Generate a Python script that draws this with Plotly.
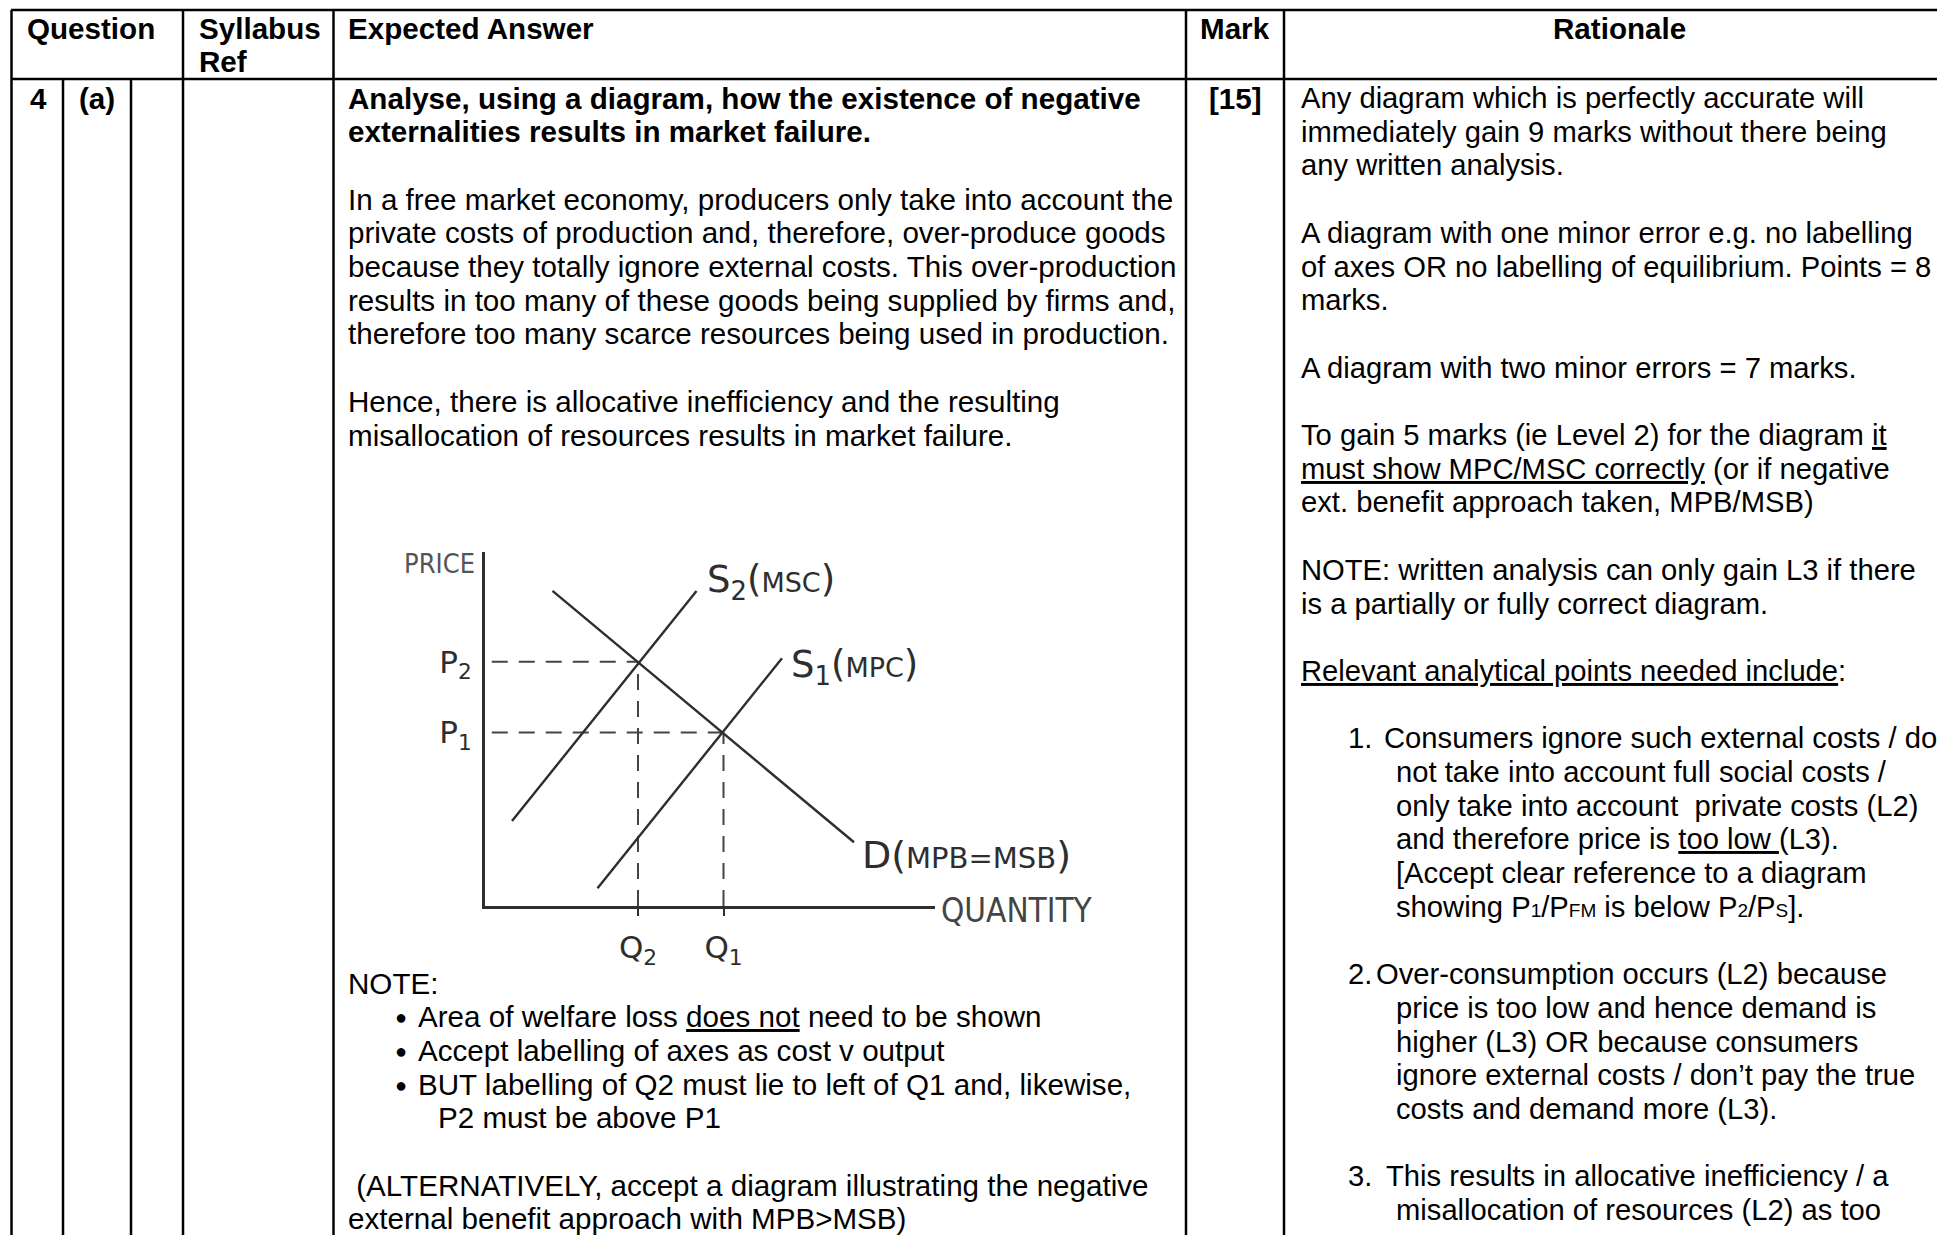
import plotly.graph_objects as go

W, H = 1937, 1235
FONT = "Liberation Sans, Arial, sans-serif"
HAND = "DejaVu Sans, sans-serif"
NARROW = "Liberation Sans Narrow, DejaVu Sans Condensed, DejaVu Sans, sans-serif"
INK = "#2e2e2e"

# diagram values (quantity / price on a 0-100 scale)
s2_q = [6, 47]
s2_p = [24, 89]
s1_q = [25, 66]
s1_p = [5, 70]
d_q = [15, 82]
d_p = [89, 18]
eq_q = [34, 53]      # Q2, Q1
eq_p = [69, 49]      # P2, P1
q_ticks = ["Q<sub>2</sub>", "Q<sub>1</sub>"]
p_ticks = ["P<sub>2</sub>", "P<sub>1</sub>"]

# table text
header = ["Question", "Syllabus", "Ref", "Expected Answer", "Mark", "Rationale"]
answer_lines = [
    (0, "<b>Analyse, using a diagram, how the existence of negative</b>"),
    (1, "<b>externalities results in market failure.</b>"),
    (3, "In a free market economy, producers only take into account the"),
    (4, "private costs of production and, therefore, over-produce goods"),
    (5, "because they totally ignore external costs. This over-production"),
    (6, "results in too many of these goods being supplied by firms and,"),
    (7, "therefore too many scarce resources being used in production."),
    (9, "Hence, there is allocative inefficiency and the resulting"),
    (10, "misallocation of resources results in market failure."),
]
note_lines = [
    (983, 346, "NOTE:"),
    (1016, 416, "Area of welfare loss <u>does not</u> need to be shown"),
    (1050, 416, "Accept labelling of axes as cost v output"),
    (1084, 416, "BUT labelling of Q2 must lie to left of Q1 and, likewise,"),
    (1117, 436, "P2 must be above P1"),
    (1185, 346, " (ALTERNATIVELY, accept a diagram illustrating the negative"),
    (1218, 346, "external benefit approach with MPB>MSB)"),
]
bullet_rows = [1016, 1050, 1084]

sm = "<span style='font-size:19px'>%s</span>"
rationale_lines = [
    (0, 1299, "Any diagram which is perfectly accurate will"),
    (1, 1299, "immediately gain 9 marks without there being"),
    (2, 1299, "any written analysis."),
    (4, 1299, "A diagram with one minor error e.g. no labelling"),
    (5, 1299, "of axes OR no labelling of equilibrium. Points = 8"),
    (6, 1299, "marks."),
    (8, 1299, "A diagram with two minor errors = 7 marks."),
    (10, 1299, "To gain 5 marks (ie Level 2) for the diagram <u>it</u>"),
    (11, 1299, "<u>must show MPC/MSC correctly</u> (or if negative"),
    (12, 1299, "ext. benefit approach taken, MPB/MSB)"),
    (14, 1299, "NOTE: written analysis can only gain L3 if there"),
    (15, 1299, "is a partially or fully correct diagram."),
    (17, 1299, "<u>Relevant analytical points needed include</u>:"),
    (19, 1346, "1."),
    (19, 1382, "Consumers ignore such external costs / do"),
    (20, 1394, "not take into account full social costs /"),
    (21, 1394, "only take into account  private costs (L2)"),
    (22, 1394, "and therefore price is <u>too low </u>(L3)."),
    (23, 1394, "[Accept clear reference to a diagram"),
    (24, 1394, "showing P" + sm % "1" + "/P" + sm % "FM" + " is below P" + sm % "2" + "/P" + sm % "S" + "]."),
    (26, 1346, "2."),
    (26, 1374, "Over-consumption occurs (L2) because"),
    (27, 1394, "price is too low and hence demand is"),
    (28, 1394, "higher (L3) OR because consumers"),
    (29, 1394, "ignore external costs / don\u2019t pay the true"),
    (30, 1394, "costs and demand more (L3)."),
    (32, 1346, "3."),
    (32, 1384, "This results in allocative inefficiency / a"),
    (33, 1394, "misallocation of resources (L2) as too"),
]


def px(x):
    return x / W


def py(y):
    return 1 - y / H


def row_y(k):
    return 98 + 33.7 * k


fig = go.Figure()

# supply and demand curves
dash = "16px,11px"
for q, p in zip(eq_q, eq_p):
    fig.add_trace(go.Scatter(x=[1.5, q], y=[p, p], mode="lines",
                             line=dict(color="#444", width=2, dash=dash)))
    fig.add_trace(go.Scatter(x=[q, q], y=[0, p], mode="lines",
                             line=dict(color="#444", width=2, dash=dash)))
fig.add_trace(go.Scatter(x=s2_q, y=s2_p, mode="lines", line=dict(color=INK, width=2.4)))
fig.add_trace(go.Scatter(x=s1_q, y=s1_p, mode="lines", line=dict(color=INK, width=2.4)))
fig.add_trace(go.Scatter(x=d_q, y=d_p, mode="lines", line=dict(color=INK, width=2.4)))

# hand-lettered labels of the diagram
fig.add_annotation(x=px(477), y=py(563), xref="paper", yref="paper", text="PRICE",
                   showarrow=False, xanchor="right", yanchor="middle",
                   font=dict(family=NARROW, size=27, color="#555"))
fig.add_annotation(x=px(939), y=py(910), xref="paper", yref="paper", text="QUANTITY",
                   showarrow=False, xanchor="left", yanchor="middle",
                   font=dict(family=NARROW, size=33, color="#444"))
fig.add_annotation(x=s2_q[1] + 1.9, y=s2_p[1] + 2.5, xref="x", yref="y",
                   text="S<sub>2</sub>(<span style='font-size:27px'>MSC</span>)", showarrow=False,
                   xanchor="left", yanchor="middle", font=dict(family=HAND, size=37, color=INK))
fig.add_annotation(x=s1_q[1] + 1.6, y=s1_p[1] - 2.5, xref="x", yref="y",
                   text="S<sub>1</sub>(<span style='font-size:27px'>MPC</span>)", showarrow=False,
                   xanchor="left", yanchor="middle", font=dict(family=HAND, size=37, color=INK))
fig.add_annotation(x=d_q[1] + 1.3, y=d_p[1] - 3.6, xref="x", yref="y",
                   text="D(<span style='font-size:29px'>MPB=MSB</span>)", showarrow=False,
                   xanchor="left", yanchor="middle", font=dict(family=HAND, size=38, color=INK))


# table text
def add_text(x, y, text, size=29.6, anchor="left", bold=False):
    if bold:
        text = "<b>" + text + "</b>"
    fig.add_annotation(x=px(x), y=py(y), xref="paper", yref="paper", text=text,
                       showarrow=False, xanchor=anchor, yanchor="middle",
                       font=dict(family=FONT, size=size, color="black"))


add_text(91, 28, header[0], anchor="center", bold=True)
add_text(197, 28, header[1], bold=True)
add_text(197, 61, header[2], bold=True)
add_text(346, 28, header[3], bold=True)
add_text(1235, 28, header[4], anchor="center", bold=True)
add_text(1619, 28, header[5], anchor="center", bold=True)
add_text(28, row_y(0), "4", bold=True)
add_text(77, row_y(0), "(a)", bold=True)
add_text(1235, row_y(0), "[15]", anchor="center", bold=True)

for k, t in answer_lines:
    add_text(346, row_y(k), t)
for y, x, t in note_lines:
    add_text(x, y, t)
for y in bullet_rows:
    add_text(401, y + 1, "\u25cf", size=20, anchor="center")
for k, x, t in rationale_lines:
    add_text(x, row_y(k), t, size=29.2)


# table rules
def rule(x0, y0, x1, y1):
    fig.add_shape(type="line", xref="paper", yref="paper", x0=px(x0), y0=py(y0),
                  x1=px(x1), y1=py(y1), line=dict(color="black", width=2.5))


rule(11, 10, W, 10)
rule(11, 79, W, 79)
for x in [11.5, 183, 333.5, 1186, 1284]:
    rule(x, 10, x, H)
for x in [63, 131]:
    rule(x, 79, x, H)

fig.update_layout(
    width=W, height=H, autosize=False,
    margin=dict(l=0, r=0, t=0, b=0),
    paper_bgcolor="white", plot_bgcolor="white",
    showlegend=False,
    xaxis=dict(domain=[px(485), px(935)], range=[0, 100], showgrid=False, zeroline=False,
               showline=True, linecolor=INK, linewidth=3,
               tickvals=eq_q, ticktext=q_ticks, ticks="outside", ticklen=7, tickcolor=INK,
               tickwidth=2, ticklabelstandoff=5, tickfont=dict(family=HAND, size=31, color=INK)),
    yaxis=dict(domain=[py(906), py(552)], range=[0, 100], showgrid=False, zeroline=False,
               showline=True, linecolor=INK, linewidth=3,
               tickvals=eq_p, ticktext=p_ticks, ticks="", ticklabelstandoff=4,
               tickfont=dict(family=HAND, size=31, color=INK)),
)

fig.write_html("out.html", config={"displayModeBar": False},
               post_script="document.body.style.margin='0';")
